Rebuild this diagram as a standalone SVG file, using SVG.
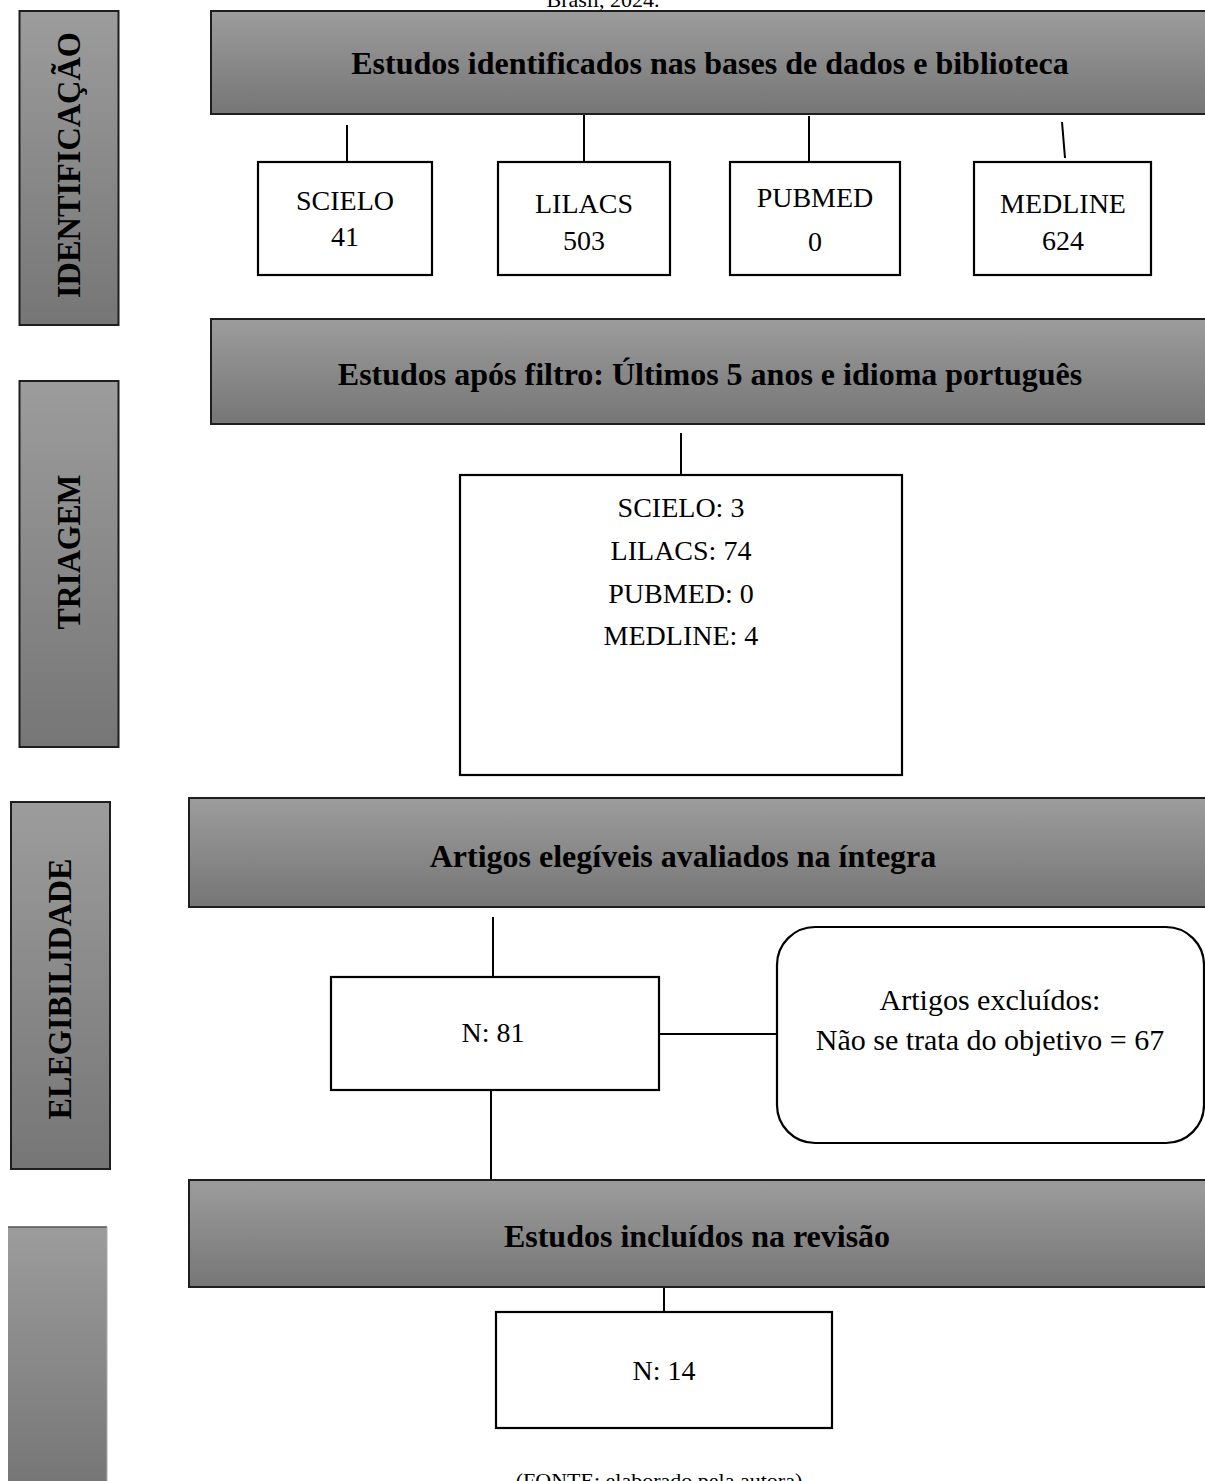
<svg xmlns="http://www.w3.org/2000/svg" width="1205" height="1481" viewBox="0 0 1205 1481">
<defs>
<linearGradient id="g" x1="0" y1="0" x2="0" y2="1">
<stop offset="0" stop-color="#9c9c9c"/>
<stop offset="1" stop-color="#767676"/>
</linearGradient>
<style>
.bar{fill:url(#g);stroke:#1e1e1e;stroke-width:2}
.box{fill:#fff;stroke:#000;stroke-width:2.2}
.bt{font-family:"Liberation Serif","Times New Roman",serif;font-weight:bold;font-size:32px;text-anchor:middle;fill:#000}
.side{font-family:"Liberation Serif","Times New Roman",serif;font-weight:bold;font-size:34px;text-anchor:middle;fill:#000}
.t{font-family:"Liberation Serif","Times New Roman",serif;font-size:28px;text-anchor:middle;fill:#000}
.cap{font-family:"Liberation Serif","Times New Roman",serif;font-size:22px;text-anchor:middle;fill:#000}
.c{stroke:#000;stroke-width:2;fill:none}
</style>
</defs>
<rect width="1205" height="1481" fill="#fff"/>
<text class="cap" x="603" y="7">Brasil, 2024.</text>

<g id="side-identificacao">
<rect class="bar" x="19.5" y="11" width="99" height="314"/>
<text class="side" transform="translate(80,165) rotate(-90)" textLength="266" lengthAdjust="spacingAndGlyphs">IDENTIFICAÇÃO</text>
</g>
<g id="side-triagem">
<rect class="bar" x="19.5" y="381" width="99" height="366"/>
<text class="side" transform="translate(80,552) rotate(-90)" textLength="155" lengthAdjust="spacingAndGlyphs">TRIAGEM</text>
</g>
<g id="side-elegibilidade">
<rect class="bar" x="11" y="802" width="99" height="367"/>
<text class="side" transform="translate(71,989) rotate(-90)" textLength="261" lengthAdjust="spacingAndGlyphs">ELEGIBILIDADE</text>
</g>
<g id="side-inclusao">
<rect x="8" y="1227" width="99" height="260" fill="url(#g)"/>
<line x1="8" y1="1227" x2="107" y2="1227" stroke="#555" stroke-width="1.5"/>
<line x1="107" y1="1227" x2="107" y2="1481" stroke="#aaa" stroke-width="1"/>
</g>

<g id="connectors">
<line class="c" x1="347" y1="125" x2="347" y2="162"/>
<line class="c" x1="584" y1="114" x2="584" y2="162" stroke-width="4"/>
<line class="c" x1="809" y1="116" x2="809" y2="162"/>
<line class="c" x1="1062" y1="122" x2="1065" y2="158" stroke-width="1.5"/>
<line class="c" x1="681" y1="433" x2="681" y2="475"/>
<line class="c" x1="493" y1="917" x2="493" y2="977"/>
<line class="c" x1="659" y1="1034" x2="777" y2="1034"/>
<line class="c" x1="491" y1="1083" x2="491" y2="1185"/>
<line class="c" x1="664" y1="1288" x2="664" y2="1312"/>
</g>

<g id="bar-identificados">
<rect class="bar" x="211" y="11" width="1000" height="103"/>
<text class="bt" x="710" y="74">Estudos identificados nas bases de dados e biblioteca</text>
</g>
<g id="scielo">
<rect class="box" x="258" y="162" width="174" height="113"/>
<text class="t" x="345" y="210">SCIELO</text>
<text class="t" x="345" y="246">41</text>
</g>
<g id="lilacs">
<rect class="box" x="498" y="162" width="172" height="113"/>
<text class="t" x="584" y="213">LILACS</text>
<text class="t" x="584" y="250">503</text>
</g>
<g id="pubmed">
<rect class="box" x="730" y="162" width="170" height="113"/>
<text class="t" x="815" y="207">PUBMED</text>
<text class="t" x="815" y="251">0</text>
</g>
<g id="medline">
<rect class="box" x="974" y="162" width="177" height="113"/>
<text class="t" x="1063" y="213">MEDLINE</text>
<text class="t" x="1063" y="250">624</text>
</g>

<g id="bar-filtro">
<rect class="bar" x="211" y="319" width="1000" height="105"/>
<text class="bt" x="710" y="385">Estudos após filtro: Últimos 5 anos e idioma português</text>
</g>
<g id="triagem-box">
<rect class="box" x="460" y="475" width="442" height="300"/>
<text class="t" x="681" y="517">SCIELO: 3</text>
<text class="t" x="681" y="560">LILACS: 74</text>
<text class="t" x="681" y="603">PUBMED: 0</text>
<text class="t" x="681" y="645">MEDLINE: 4</text>
</g>

<g id="bar-elegiveis">
<rect class="bar" x="189" y="798" width="1020" height="109"/>
<text class="bt" x="683" y="867">Artigos elegíveis avaliados na íntegra</text>
</g>
<g id="n81">
<rect class="box" x="331" y="977" width="328" height="113"/>
<text class="t" x="493" y="1042">N: 81</text>
</g>
<g id="excluidos">
<rect class="box" x="777" y="927" width="427" height="216" rx="38" ry="38"/>
<text class="t" x="990" y="1010" style="font-size:30px">Artigos excluídos:</text>
<text class="t" x="990" y="1050" style="font-size:30px">Não se trata do objetivo = 67</text>
</g>

<g id="bar-incluidos">
<rect class="bar" x="189" y="1180" width="1020" height="107"/>
<text class="bt" x="697" y="1247">Estudos incluídos na revisão</text>
</g>
<g id="n14">
<rect class="box" x="496" y="1312" width="336" height="116"/>
<text class="t" x="664" y="1380">N: 14</text>
</g>

<text class="cap" x="659" y="1488">(FONTE: elaborado pela autora)</text>
</svg>
